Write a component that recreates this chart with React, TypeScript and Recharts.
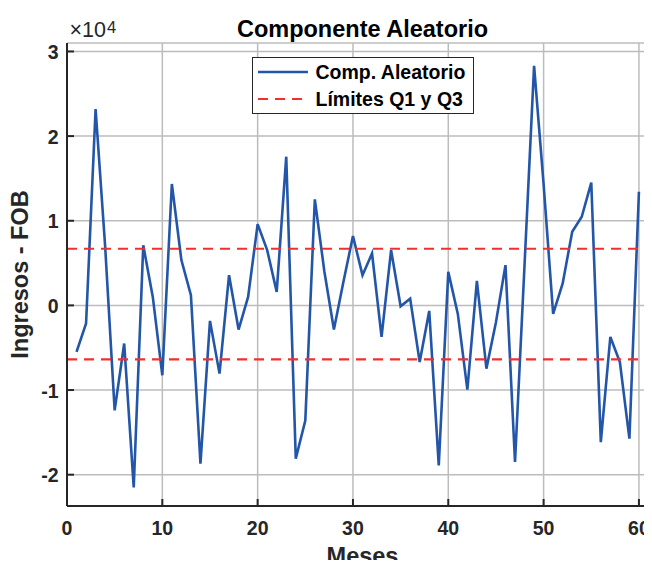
import React from 'react';
import { LineChart, Line, XAxis, YAxis, CartesianGrid, ReferenceLine } from 'recharts';

// componente aleatorio (residuo) de los ingresos FOB, 60 meses
const meses = [
  1, 2, 3, 4, 5, 6, 7, 8, 9, 10, 11, 12, 13, 14, 15, 16, 17, 18, 19, 20,
  21, 22, 23, 24, 25, 26, 27, 28, 29, 30, 31, 32, 33, 34, 35, 36, 37, 38, 39, 40,
  41, 42, 43, 44, 45, 46, 47, 48, 49, 50, 51, 52, 53, 54, 55, 56, 57, 58, 59, 60,
];
const compAleatorio = [
  -5500, -2140, 23200, 7000, -12400, -4500, -21500, 7100, 1000, -8260,
  14340, 5350, 1200, -18700, -1830, -8060, 3570, -2850, 1000, 9600,
  6530, 1600, 17570, -18100, -13600, 12530, 4000, -2850, 2800, 8190,
  3570, 6140, -3730, 6530, -100, 800, -6690, -650, -18900, 3960,
  -1000, -9950, 2900, -7470, -2000, 4760, -18500, 4800, 28300, 14300,
  -1000, 2600, 8700, 10470, 14500, -16150, -3730, -6690, -15750, 13430,
];
const limiteQ1 = -6370;
const limiteQ3 = 6690;

const ticksX = [0, 10, 20, 30, 40, 50, 60];
const ticksY = [-20000, -10000, 0, 10000, 20000, 30000];

const data = meses.map((m, i) => ({ mes: m, valor: compAleatorio[i] }));

const INK = '#262626';
const FONT = '"Liberation Sans", Arial, Helvetica, sans-serif';
const AZUL = '#2356a8';
const ROJO = '#f03030';

function TickAbajo({ x, y, payload }: any) {
  return (
    <g>
      <line x1={x} x2={x} y1={y} y2={y - 7} stroke={INK} strokeWidth={2} />
      <text x={x} y={y + 29} textAnchor="middle" fill={INK} fontSize={19.5} fontWeight="bold" fontFamily={FONT}>
        {payload.value}
      </text>
    </g>
  );
}

function TickArriba({ x, y }: any) {
  return <line x1={x} x2={x} y1={y} y2={y + 7} stroke={INK} strokeWidth={2} />;
}

function TickIzq({ x, y, payload }: any) {
  return (
    <g>
      <line x1={x} x2={x + 7} y1={y} y2={y} stroke={INK} strokeWidth={2} />
      <text x={x - 8.5} y={y + 7.5} textAnchor="end" fill={INK} fontSize={19.5} fontWeight="bold" fontFamily={FONT}>
        {payload.value / 10000}
      </text>
    </g>
  );
}

function EtiquetaY({ viewBox }: any) {
  const cx = viewBox.x + 28;
  const cy = viewBox.y + viewBox.height / 2;
  return (
    <text
      x={cx}
      y={cy}
      transform={`rotate(-90 ${cx} ${cy})`}
      textAnchor="middle"
      fill={INK}
      fontSize={23.5}
      fontWeight="bold"
      fontFamily={FONT}
    >
      Ingresos - FOB
    </text>
  );
}

export default function App() {
  return (
    <div style={{ position: 'relative', margin: -8, width: 652, height: 568, overflow: 'hidden', background: '#fff' }}>
      <LineChart width={670} height={568} data={data} margin={{ top: 43, right: 12, bottom: 0, left: 0 }}>
        <CartesianGrid stroke="#bcbcbc" strokeWidth={1.5} />
        <XAxis
          dataKey="mes"
          type="number"
          domain={[0, 62]}
          ticks={ticksX}
          interval={0}
          allowDataOverflow
          height={62}
          tickSize={0}
          tickMargin={0}
          tick={<TickAbajo />}
          axisLine={{ stroke: INK, strokeWidth: 2 }}
        />
        <XAxis
          xAxisId="arriba"
          orientation="top"
          dataKey="mes"
          type="number"
          domain={[0, 62]}
          ticks={ticksX}
          interval={0}
          allowDataOverflow
          height={0}
          tickSize={0}
          tickMargin={0}
          tick={<TickArriba />}
          axisLine={{ stroke: INK, strokeWidth: 2 }}
        />
        <YAxis
          type="number"
          domain={[-23700, 31000]}
          ticks={ticksY}
          interval={0}
          allowDataOverflow
          width={67}
          tickSize={0}
          tickMargin={0}
          tick={<TickIzq />}
          axisLine={{ stroke: INK, strokeWidth: 2 }}
          label={<EtiquetaY />}
        />
        <Line
          type="linear"
          dataKey="valor"
          stroke={AZUL}
          strokeWidth={2.6}
          dot={false}
          activeDot={false}
          isAnimationActive={false}
        />
        <ReferenceLine y={limiteQ3} stroke={ROJO} strokeWidth={2.2} strokeDasharray="10 7" />
        <ReferenceLine y={limiteQ1} stroke={ROJO} strokeWidth={2.2} strokeDasharray="10 7" />
      </LineChart>

      <svg style={{ position: 'absolute', left: 0, top: 0, pointerEvents: 'none' }} width={652} height={568}>
        <text x={362.5} y={36.5} textAnchor="middle" fill="#000" fontSize={23.5} fontWeight="bold" fontFamily={FONT}>
          Componente Aleatorio
        </text>
        <text x={69.5} y={37.3} fill={INK} fontSize={21.5} fontFamily={FONT}>
          ×10
        </text>
        <text x={107} y={33} fill={INK} fontSize={16.5} fontFamily={FONT}>
          4
        </text>
        <text x={362.5} y={564} textAnchor="middle" fill={INK} fontSize={23.5} fontWeight="bold" fontFamily={FONT}>
          Meses
        </text>
      </svg>

      <div
        style={{
          position: 'absolute',
          left: 252,
          top: 57,
          width: 222,
          height: 57,
          boxSizing: 'border-box',
          border: `1.6px solid ${INK}`,
          background: '#fff',
          fontFamily: FONT,
          fontWeight: 'bold',
          fontSize: 19.5,
          color: '#000',
          paddingTop: 0.5,
        }}
      >
        <div style={{ display: 'flex', alignItems: 'center', height: 27 }}>
          <svg width={50} height={10} style={{ marginLeft: 4.5 }}>
            <line x1={0} x2={50} y1={5} y2={5} stroke={AZUL} strokeWidth={2.6} />
          </svg>
          <span style={{ marginLeft: 8, lineHeight: '27px' }}>Comp. Aleatorio</span>
        </div>
        <div style={{ display: 'flex', alignItems: 'center', height: 27 }}>
          <svg width={50} height={10} style={{ marginLeft: 4.5 }}>
            <line x1={0} x2={50} y1={5} y2={5} stroke={ROJO} strokeWidth={2.2} strokeDasharray="10 7" />
          </svg>
          <span style={{ marginLeft: 8, lineHeight: '27px' }}>Límites Q1 y Q3</span>
        </div>
      </div>
    </div>
  );
}
